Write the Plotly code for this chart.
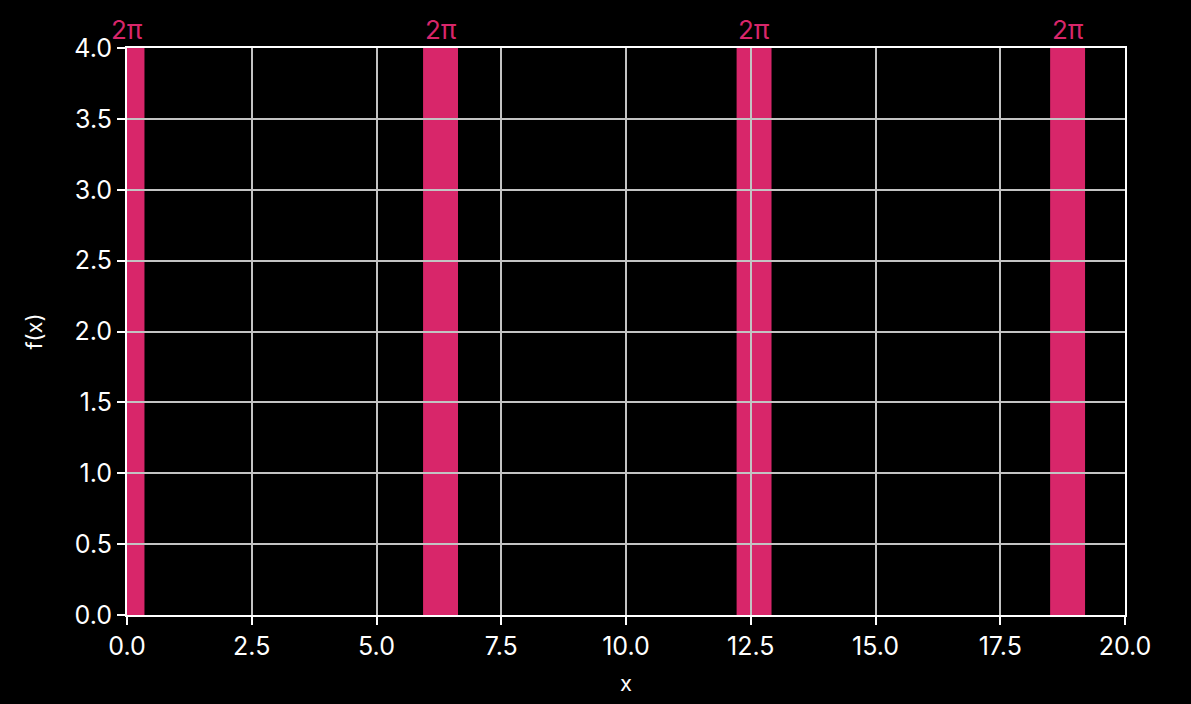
import math
import plotly.graph_objects as go

band_centers = [0.0, 2 * math.pi, 4 * math.pi, 6 * math.pi]
band_half_width = 0.35
band_labels = ["2π", "2π", "2π", "2π"]
x_range = [0, 20]
y_range = [0, 4]
x_ticks = [0, 2.5, 5, 7.5, 10, 12.5, 15, 17.5, 20]
y_ticks = [0, 0.5, 1, 1.5, 2, 2.5, 3, 3.5, 4]

PINK = "rgb(216,38,106)"
FONT = "Inter, Lato, sans-serif"

fig = go.Figure()
# invisible trace to establish axes
fig.add_trace(go.Scatter(x=x_range, y=y_range, mode="markers",
                         marker=dict(opacity=0), hoverinfo="skip", showlegend=False))

for c, lab in zip(band_centers, band_labels):
    fig.add_shape(type="rect", xref="x", yref="y",
                  x0=c - band_half_width, x1=c + band_half_width,
                  y0=y_range[0], y1=y_range[1],
                  fillcolor=PINK, line=dict(width=0), layer="below")
    fig.add_annotation(x=c, y=1, xref="x", yref="paper", text=lab,
                       showarrow=False, yanchor="bottom", yshift=1,
                       font=dict(family=FONT, size=26, color=PINK))

axis_common = dict(
    showgrid=True, gridcolor="rgb(195,195,195)", gridwidth=2,
    showline=True, linecolor="white", linewidth=2, mirror=True,
    ticks="outside", tickcolor="white", ticklen=8, tickwidth=2,
    tickfont=dict(family=FONT, size=25, color="white"),
    zeroline=False,
)

fig.update_xaxes(range=x_range, tickvals=x_ticks,
                 ticktext=[f"{v:.1f}" for v in x_ticks],
                 title=dict(text="x", font=dict(family=FONT, size=22, color="white"), standoff=16),
                 **axis_common)
fig.update_yaxes(range=y_range, tickvals=y_ticks,
                 ticktext=[f"{v:.1f}" for v in y_ticks],
                 title=dict(text="f(x)", font=dict(family=FONT, size=22, color="white"), standoff=26),
                 **axis_common)

fig.update_layout(
    width=1191, height=704,
    paper_bgcolor="black", plot_bgcolor="black",
    margin=dict(l=127, r=66, t=48, b=89),
    showlegend=False,
)

fig.write_html(
    "out.html",
    config={"displayModeBar": False},
    post_script="document.body.style.margin='0';document.body.style.background='black';",
)
